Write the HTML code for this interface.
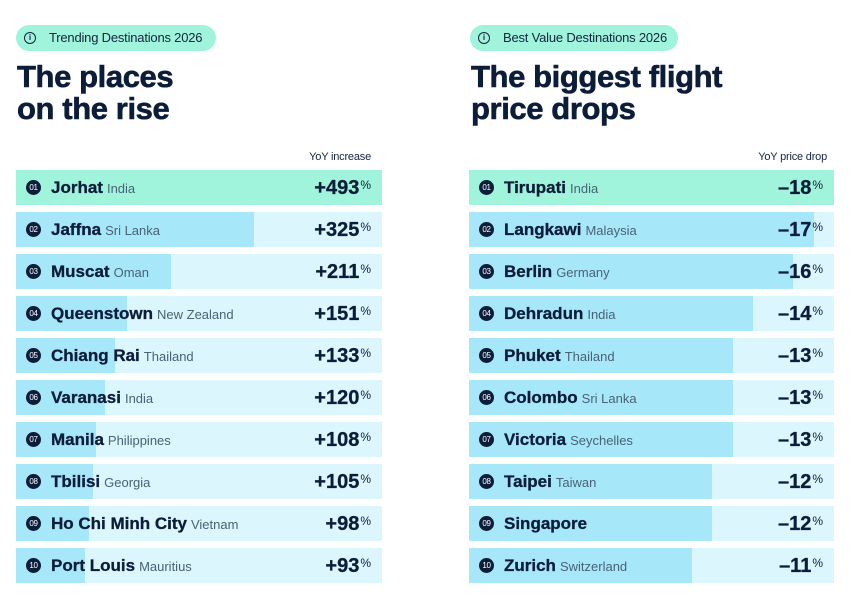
<!DOCTYPE html>
<html><head><meta charset="utf-8"><style>
*{margin:0;padding:0;box-sizing:border-box}
body{width:850px;height:600px;background:#fff;position:relative;overflow:hidden;font-family:"Liberation Sans",Arial,sans-serif;color:#0c1d3a}
.pill{position:absolute;top:25px;height:26px;border-radius:13px;background:#a0f4db;font-size:13px;letter-spacing:-0.2px;color:#13243f;line-height:26px;padding-left:33px}
.pill .ic{position:absolute;left:8px;top:7px;width:12px;height:12px;border:1.3px solid #13243f;border-radius:50%;font-size:8px;line-height:10px;text-align:center;font-weight:bold;letter-spacing:0}
.title{position:absolute;top:61px;font-size:31px;line-height:32px;font-weight:bold;color:#0c1d3a;letter-spacing:-0.4px;-webkit-text-stroke:0.6px #0c1d3a}
.hdr{position:absolute;top:152px;font-size:11px;line-height:11px;letter-spacing:-0.2px;color:#13243f;text-align:right}
.row{position:absolute;height:35px;background:#dbf6fd;overflow:hidden}
.row.hl{background:#a0f4db}
.bar{position:absolute;left:0;top:0;bottom:0;background:#a6e7f9}
.rk{position:absolute;left:10px;top:10px;width:15px;height:15px;border-radius:50%;background:#0c1d3a;color:#fff;font-size:8px;line-height:15px;text-align:center;letter-spacing:-0.3px}
.nm{position:absolute;left:35px;top:0;height:35px;line-height:35px;white-space:nowrap}
.nm b{font-size:17px;font-weight:bold;color:#0c1d3a;-webkit-text-stroke:0.3px #0c1d3a}
.nm span{font-size:13px;color:#4a6276;margin-left:4px}
.val{position:absolute;right:11px;top:7px;font-size:20px;font-weight:bold;line-height:22px;color:#0c1d3a;white-space:nowrap;-webkit-text-stroke:0.3px #0c1d3a}
.val sup{font-size:12px;font-weight:normal;vertical-align:top;position:relative;top:-3px;margin-left:1px;-webkit-text-stroke:0}
</style></head><body>

<div class="pill" style="left:16px;width:200px"><div class="ic">i</div>Trending Destinations 2026</div>
<div class="pill" style="left:470px;width:208px"><div class="ic">i</div>Best Value Destinations 2026</div>

<div class="title" style="left:17px">The places<br>on the rise</div>
<div class="title" style="left:471px">The biggest flight<br>price drops</div>

<div class="hdr" style="right:479px">YoY increase</div>
<div class="hdr" style="right:23px">YoY price drop</div>

<!-- Left -->
<div class="row hl" style="left:16px;top:170px;width:366px"><div class="rk">01</div><div class="nm"><b>Jorhat</b><span>India</span></div><div class="val">+493<sup>%</sup></div></div>
<div class="row" style="left:16px;top:212px;width:366px"><div class="bar" style="width:238px"></div><div class="rk">02</div><div class="nm"><b>Jaffna</b><span>Sri Lanka</span></div><div class="val">+325<sup>%</sup></div></div>
<div class="row" style="left:16px;top:254px;width:366px"><div class="bar" style="width:155px"></div><div class="rk">03</div><div class="nm"><b>Muscat</b><span>Oman</span></div><div class="val">+211<sup>%</sup></div></div>
<div class="row" style="left:16px;top:296px;width:366px"><div class="bar" style="width:111px"></div><div class="rk">04</div><div class="nm"><b>Queenstown</b><span>New Zealand</span></div><div class="val">+151<sup>%</sup></div></div>
<div class="row" style="left:16px;top:338px;width:366px"><div class="bar" style="width:99px"></div><div class="rk">05</div><div class="nm"><b>Chiang Rai</b><span>Thailand</span></div><div class="val">+133<sup>%</sup></div></div>
<div class="row" style="left:16px;top:380px;width:366px"><div class="bar" style="width:89px"></div><div class="rk">06</div><div class="nm"><b>Varanasi</b><span>India</span></div><div class="val">+120<sup>%</sup></div></div>
<div class="row" style="left:16px;top:422px;width:366px"><div class="bar" style="width:80px"></div><div class="rk">07</div><div class="nm"><b>Manila</b><span>Philippines</span></div><div class="val">+108<sup>%</sup></div></div>
<div class="row" style="left:16px;top:464px;width:366px"><div class="bar" style="width:77px"></div><div class="rk">08</div><div class="nm"><b>Tbilisi</b><span>Georgia</span></div><div class="val">+105<sup>%</sup></div></div>
<div class="row" style="left:16px;top:506px;width:366px"><div class="bar" style="width:73px"></div><div class="rk">09</div><div class="nm"><b>Ho Chi Minh City</b><span>Vietnam</span></div><div class="val">+98<sup>%</sup></div></div>
<div class="row" style="left:16px;top:548px;width:366px"><div class="bar" style="width:69px"></div><div class="rk">10</div><div class="nm"><b>Port Louis</b><span>Mauritius</span></div><div class="val">+93<sup>%</sup></div></div>

<!-- Right -->
<div class="row hl" style="left:469px;top:170px;width:365px"><div class="rk">01</div><div class="nm"><b>Tirupati</b><span>India</span></div><div class="val">–18<sup>%</sup></div></div>
<div class="row" style="left:469px;top:212px;width:365px"><div class="bar" style="width:345px"></div><div class="rk">02</div><div class="nm"><b>Langkawi</b><span>Malaysia</span></div><div class="val">–17<sup>%</sup></div></div>
<div class="row" style="left:469px;top:254px;width:365px"><div class="bar" style="width:324px"></div><div class="rk">03</div><div class="nm"><b>Berlin</b><span>Germany</span></div><div class="val">–16<sup>%</sup></div></div>
<div class="row" style="left:469px;top:296px;width:365px"><div class="bar" style="width:284px"></div><div class="rk">04</div><div class="nm"><b>Dehradun</b><span>India</span></div><div class="val">–14<sup>%</sup></div></div>
<div class="row" style="left:469px;top:338px;width:365px"><div class="bar" style="width:264px"></div><div class="rk">05</div><div class="nm"><b>Phuket</b><span>Thailand</span></div><div class="val">–13<sup>%</sup></div></div>
<div class="row" style="left:469px;top:380px;width:365px"><div class="bar" style="width:264px"></div><div class="rk">06</div><div class="nm"><b>Colombo</b><span>Sri Lanka</span></div><div class="val">–13<sup>%</sup></div></div>
<div class="row" style="left:469px;top:422px;width:365px"><div class="bar" style="width:264px"></div><div class="rk">07</div><div class="nm"><b>Victoria</b><span>Seychelles</span></div><div class="val">–13<sup>%</sup></div></div>
<div class="row" style="left:469px;top:464px;width:365px"><div class="bar" style="width:243px"></div><div class="rk">08</div><div class="nm"><b>Taipei</b><span>Taiwan</span></div><div class="val">–12<sup>%</sup></div></div>
<div class="row" style="left:469px;top:506px;width:365px"><div class="bar" style="width:243px"></div><div class="rk">09</div><div class="nm"><b>Singapore</b></div><div class="val">–12<sup>%</sup></div></div>
<div class="row" style="left:469px;top:548px;width:365px"><div class="bar" style="width:223px"></div><div class="rk">10</div><div class="nm"><b>Zurich</b><span>Switzerland</span></div><div class="val">–11<sup>%</sup></div></div>

</body></html>
